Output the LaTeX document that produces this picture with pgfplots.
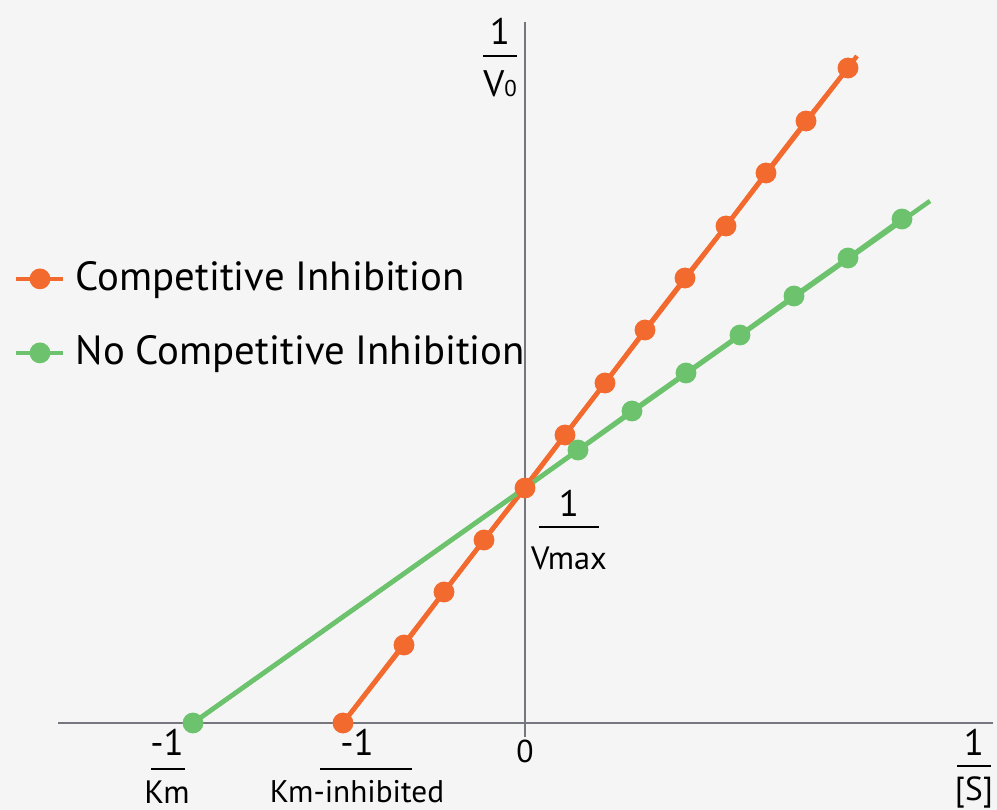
\documentclass[border=0pt]{standalone}
\usepackage{pgfplots}
\pgfplotsset{compat=1.18}
\usepackage{fontspec}
\setmainfont{PT Sans}
\definecolor{corange}{HTML}{F26A2E}
\definecolor{cgreen}{HTML}{6DC36D}
\definecolor{caxis}{HTML}{76767E}
\definecolor{cbg}{HTML}{F5F5F5}
% fraction: #1 rule left x, #2 rule right x, #3 rule y, #4 text x, #5 num, #6 den, #7 num gap, #8 den gap
\newcommand{\fracat}[8]{%
  \draw[black, line width=0.75pt] (axis cs:#1,#3) -- (axis cs:#2,#3);
  \node[anchor=south, inner sep=0pt] at ([yshift=#7]axis cs:#4,#3) {#5};
  \node[anchor=north, inner sep=0pt] at ([yshift=-#8]axis cs:#4,#3) {#6};
}
\newcommand{\nf}{\fontsize{10.5}{12}\selectfont}
\newcommand{\df}{\fontsize{9.2}{11}\selectfont}
\begin{document}
\begin{tikzpicture}
\begin{axis}[
  x=1cm, y=1cm,
  xmin=-5.25, xmax=4.72, ymin=-0.87, ymax=7.23,
  axis lines=none,
  clip=false,
  legend style={draw=none, fill=none, at={(axis cs:-5.12,4.69)}, anchor=north west,
    font=\fontsize{11.6}{14}\selectfont, row sep=7.3pt, inner sep=0pt,
    nodes={inner xsep=3pt}},
  legend cell align=left,
  legend image code/.code={
    \draw[#1] (0cm,0cm) -- (0.47cm,0cm);
    \draw[#1, mark repeat=1] plot coordinates {(0.24cm,0cm)};
  },
]
\coordinate (bl) at (axis cs:-5.25,-0.87);
\coordinate (tr) at (axis cs:4.72,7.23);
\path[fill=cbg] (axis cs:-5.25,-0.87) rectangle (axis cs:4.72,7.23);
% axes
\draw[caxis, line width=0.6pt] (axis cs:-4.67,0) -- (axis cs:4.68,0);
\draw[caxis, line width=0.6pt] (axis cs:0,-0.14) -- (axis cs:0,7.01);

% lines extended past last marker
\addplot[corange, line width=1.3pt, no marks, forget plot] coordinates {(-1.82,0) (3.32,6.67)};
\addplot[cgreen, line width=1.3pt, no marks, forget plot] coordinates {(-3.32,0) (4.05,5.22)};

\addplot[corange, line width=1.3pt, mark=*, mark size=2.3pt, mark options={fill=corange, draw=corange}] coordinates {
(-1.82,0) (-1.21,0.78) (-0.81,1.31) (-0.41,1.83) (0,2.35) (0.40,2.88) (0.80,3.40)
(1.20,3.93) (1.60,4.45) (2.01,4.97) (2.41,5.50) (2.81,6.02) (3.23,6.55)};
\addlegendentry{Competitive Inhibition}

\addplot[cgreen, line width=1.3pt, mark=*, mark size=2.3pt, mark options={fill=cgreen, draw=cgreen},
  mark indices={1,3,4,5,6,7,8,9,10}] coordinates {
(-3.32,0) (0,2.35) (0.53,2.73) (1.07,3.12) (1.61,3.50) (2.15,3.88) (2.69,4.27) (3.23,4.65) (3.77,5.04)};
\addlegendentry{No Competitive Inhibition}

% re-draw intercept marker of orange on top
\addplot[corange, only marks, mark=*, mark size=2.3pt, forget plot] coordinates {(0,2.35)};

% labels
\fracat{-0.42}{-0.08}{6.67}{-0.25}{\nf 1}{\fontsize{10.5}{12}\selectfont V\fontsize{6.5}{8}\selectfont 0}{1.1mm}{1.4mm}
\fracat{0.14}{0.74}{1.96}{0.44}{\nf 1}{\df Vmax}{1.0mm}{1.9mm}
\fracat{-3.74}{-3.40}{-0.46}{-3.58}{\nf -1}{\df Km}{1.3mm}{1.1mm}
\fracat{-2.05}{-1.13}{-0.46}{-1.68}{\nf -1}{\fontsize{8.9}{11}\selectfont Km-inhibited}{1.3mm}{1.1mm}
\fracat{4.32}{4.66}{-0.43}{4.49}{\nf 1}{\fontsize{9.5}{11}\selectfont [S]}{1.0mm}{1.0mm}
\node at (axis cs:0,-0.28) {\fontsize{9}{11}\selectfont 0};
\end{axis}
\pgfresetboundingbox
\useasboundingbox (bl) rectangle (tr);
\end{tikzpicture}
\end{document}
